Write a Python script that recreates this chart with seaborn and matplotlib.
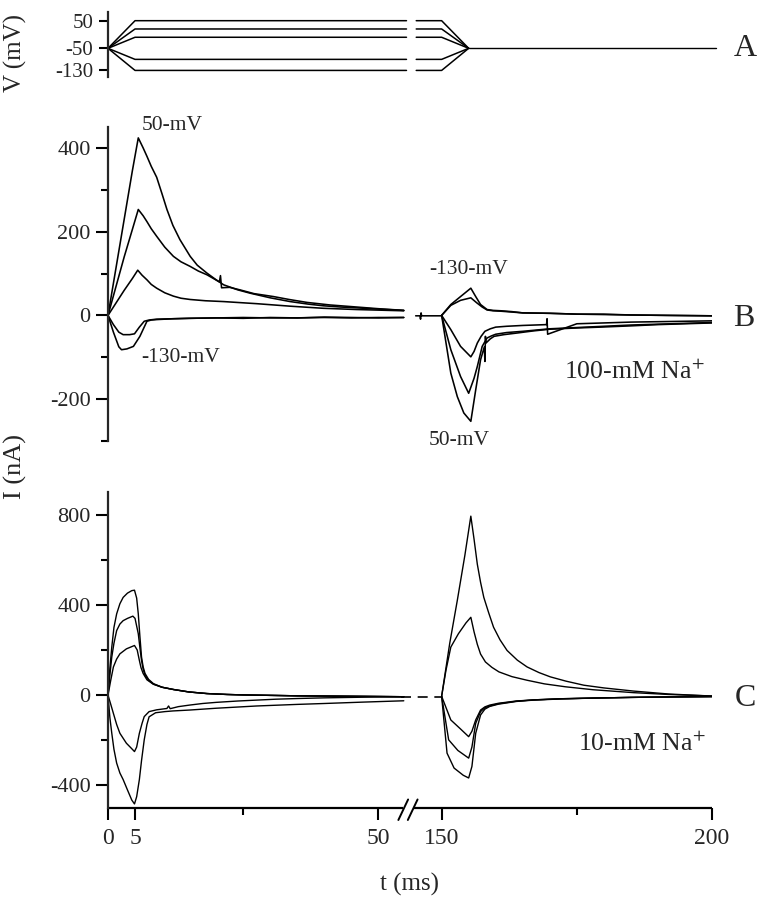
import numpy as np
import pandas as pd
import matplotlib
matplotlib.use("Agg")
import matplotlib.pyplot as plt
import seaborn as sns

# ---------------- data ----------------
BREAK_SHIFT = 88.3          # right part of the broken time axis (t >= 140 ms) is shifted left
X_TICKS = [0, 5, 50, 150, 200]
X_TICK_LABELS = ["0", "5", "50", "150", "200"]
X_MINOR = [25, 175]

# Panel A: voltage protocol (mV)
V_STEPS = [50, 20, -10, -90, -130]
V_HOLD = -50
V_TICKS = [50, -50, -130]
V_TICK_LABELS = ["50", "-50", "-130"]
V_LEFT_T = [0, 5, 55.2]
V_RIGHT_T = [145.3, 150, 155]
V_TAIL_T = [155, 200.7]

# Panel B: 100-mM Na+ (nA)
B_TICKS = [-200, 0, 200, 400]
B_MINOR = [-300, -100, 100, 300]
B_L_T_50 = [0, 1.5, 3, 4.5, 5.6, 6.5, 7.2, 8, 9, 10, 10.9, 12, 13.3, 15.2, 16.5, 18.3, 20, 21.4, 24, 26.3, 30, 33.7, 37, 39.8, 43, 46, 50, 54.7]
B_L_I_50 = [0, 115, 230, 345, 424, 400, 380, 356, 330, 290, 253, 215, 181, 141, 120, 101, 85, 73, 61, 53, 42, 33, 27, 23, 20, 18, 15, 12]
B_L_T_20 = [0, 1.5, 3, 4.5, 5.6, 6.5, 7.2, 8, 9, 10.5, 12.1, 13.5, 15.2, 16.7, 18.3, 20.6, 20.8, 21.0, 22.5, 24.4, 27, 30.6, 33.5, 36.8, 41, 46, 50, 54.7]
B_L_I_20 = [0, 70, 140, 205, 253, 238, 224, 207, 189, 163, 141, 128, 117, 106, 97, 80, 95, 66, 67, 61, 52, 45, 38, 31, 25, 20, 16, 12]
B_L_T_M10 = [0, 1.5, 3, 4.5, 5.5, 6.3, 7.2, 8, 9, 10.5, 12.1, 13.5, 15.2, 18, 21.4, 27.5, 33.7, 39.8, 46, 54.7]
B_L_I_M10 = [0, 30, 60, 88, 108, 96, 85, 74, 65, 54, 46, 41, 38, 35, 33, 28, 22, 17, 14, 11]
B_L_T_M90 = [0, 1, 2, 2.8, 4, 4.9, 5.8, 6.7, 7.6, 9, 12, 15, 20, 25, 30, 35, 40, 45, 50, 54.7]
B_L_I_M90 = [0, -22, -40, -46, -46, -44, -28, -14, -11, -9, -8, -7, -6, -7, -5, -6, -5, -6, -5, -5]
B_L_T_M130 = [0, 1, 2, 2.5, 3.5, 4.7, 5.9, 7.2, 8, 9, 12, 15, 20, 25, 30, 35, 40, 45, 50, 54.7]
B_L_I_M130 = [0, -40, -75, -82, -80, -74, -50, -14, -11, -10, -8, -7, -6, -5, -6, -6, -4, -5, -6, -5]
B_R_PRE_T = [145.2, 146.0, 146.1, 146.2, 146.3, 150]
B_R_PRE_I = [-1, -1, -9, 6, -1, -1]
B_R_T_M130 = [150, 151.7, 153.5, 155.4, 156.3, 157.2, 158.4, 159.5, 161, 163, 165, 170, 175, 180, 185, 192, 200]
B_R_I_M130 = [0, 26, 45, 65, 45, 26, 14, 12, 11, 9, 6, 5, 3, 3, 1, 0, -1]
B_R_T_M90 = [150, 151.7, 153.5, 155.4, 156.5, 157.5, 158.4, 159.5, 161, 163, 165, 170, 175, 180, 185, 192, 200]
B_R_I_M90 = [0, 24, 36, 42, 30, 20, 13, 11, 10, 8, 6, 5, 3, 2, 1, 0, -1]
B_R_T_50 = [150, 151.7, 152.9, 154.1, 155.4, 156.3, 157.2, 157.9, 158.0, 158.1, 158.2, 159.0, 159.7, 161.5, 164, 167, 170, 175, 179.3, 185, 190, 195, 200]
B_R_I_50 = [0, -138, -194, -233, -253, -178, -106, -75, -110, -50, -66, -56, -50, -46, -42, -37, -33, -30, -28, -25, -22, -20, -18]
B_R_T_20 = [150, 151.7, 153.5, 155.0, 156.0, 156.6, 157.5, 158.4, 159.2, 160, 162, 165, 170, 175, 180, 185, 190, 195, 200]
B_R_I_20 = [0, -82, -146, -186, -150, -122, -74, -54, -49, -45, -41, -38, -32, -29, -26, -23, -21, -19, -17]
B_R_T_M10 = [150, 151.7, 153.5, 155.4, 156.0, 156.6, 157.3, 158, 159, 160, 162, 165, 169.4, 169.5, 169.6, 175, 180, 185, 190, 195, 200]
B_R_I_M10 = [0, -34, -74, -99, -86, -66, -50, -38, -32, -28, -26, -24, -22, -8, -45, -20, -18, -16, -15, -14, -13]

# Panel C: 10-mM Na+ (nA)
C_TICKS = [-400, 0, 400, 800]
C_MINOR = [-200, 200, 600]
C_L_T_50 = [0, 0.35, 0.7, 1.1, 1.6, 2.2, 2.8, 3.6, 4.4, 4.9, 5.3, 5.6, 5.9, 6.2, 6.5, 6.85, 7.5, 8.4, 10, 12.1, 15, 18.3, 22, 25, 30, 35, 40, 45, 50, 54.7]
C_L_I_50 = [0, 120, 213, 300, 360, 405, 433, 452, 463, 465, 430, 360, 260, 169, 125, 96, 70, 51, 35, 25, 14, 7, 3, 1, -1, -3, -4, -5, -6, -7]
C_L_T_20 = [0, 0.35, 0.7, 1.1, 1.6, 2.2, 2.8, 3.6, 4.6, 5.0, 5.6, 5.9, 6.2, 6.5, 6.85, 7.5, 8.4, 10, 12.1, 15, 18.3, 22, 25, 30, 35, 40, 45, 50, 54.7]
C_L_I_20 = [0, 90, 169, 230, 286, 315, 330, 340, 350, 340, 272, 210, 154, 115, 88, 66, 49, 35, 25, 14, 7, 3, 1, -1, -3, -4, -5, -6, -7]
C_L_T_M10 = [0, 0.5, 1.0, 1.6, 2.2, 3.4, 4.9, 5.4, 5.8, 6.1, 6.5, 7.2, 8.4, 10, 12.1, 15, 18.3, 22, 25, 30, 35, 40, 45, 50, 54.7]
C_L_I_M10 = [0, 65, 125, 160, 183, 205, 220, 200, 154, 122, 96, 68, 48, 35, 25, 14, 7, 3, 1, -1, -3, -4, -5, -6, -7]
C_L_T_M90 = [0, 0.5, 1.0, 1.6, 2.2, 3.4, 4.3, 4.9, 5.3, 5.8, 6.3, 6.7, 7.6, 9, 10.9, 11.2, 11.5, 13, 15.1, 17.5, 20, 24, 27.5, 31, 35, 40, 45, 50, 54.7]
C_L_I_M90 = [0, -40, -81, -130, -169, -213, -235, -250, -230, -169, -125, -95, -73, -65, -59, -48, -60, -51, -44, -37, -32, -26, -22, -18, -15, -12, -10, -8, -7]
C_L_T_M130 = [0, 0.35, 0.7, 1.1, 1.6, 2.2, 2.8, 3.6, 4.4, 4.9, 5.3, 5.8, 6.2, 6.7, 7.2, 7.6, 8.8, 10.5, 12, 15.1, 20, 27.5, 35, 40, 47, 54.7]
C_L_I_M130 = [0, -100, -169, -240, -301, -345, -374, -420, -465, -482, -450, -374, -290, -198, -130, -96, -78, -73, -70, -66, -58, -48, -41, -37, -31, -25]
C_R_PRE_T = [142.4, 150]
C_R_PRE_I = [-7, -7]
C_R_T_BIG = [150, 151.5, 152.9, 154.3, 155.4, 156.0, 156.6, 157.2, 157.8, 158.7, 159.6, 160.8, 162.1, 164, 165.8, 168, 170.1, 173, 176.3, 180, 185.5, 192, 200]
C_R_I_BIG = [-5, 230, 420, 620, 793, 690, 580, 500, 433, 365, 301, 245, 198, 155, 125, 100, 81, 62, 44, 32, 18, 5, -4]
C_R_T_MID = [150, 150.8, 151.7, 153.1, 154.5, 155.4, 156.0, 156.6, 157.2, 158.1, 159.3, 160.6, 163, 165.8, 169, 172.9, 178, 185.5, 192, 200]
C_R_I_MID = [-5, 110, 213, 272, 320, 345, 280, 225, 182, 147, 123, 103, 82, 66, 50, 37, 24, 11, 3, -4]
C_R_T_D1 = [150, 151.7, 153.5, 155.0, 155.6, 156.3, 157.2, 158.0, 158.9, 160.5, 163.8, 167, 172, 178, 185, 192, 200]
C_R_I_D1 = [-5, -110, -150, -184, -160, -110, -66, -52, -44, -36, -26, -21, -16, -13, -10, -8, -7]
C_R_T_D2 = [150, 151.3, 153, 155.0, 155.6, 156.3, 157.2, 158.0, 158.9, 160.5, 163.8, 167, 172, 178, 185, 192, 200]
C_R_I_D2 = [-5, -198, -245, -279, -230, -125, -73, -56, -48, -38, -27, -21, -16, -13, -10, -8, -6]
C_R_T_D3 = [150, 151, 152.3, 154, 155.0, 155.6, 156.3, 157.2, 158.0, 158.9, 160.5, 163.8, 167, 172, 178, 185, 192, 200]
C_R_I_D3 = [-5, -257, -323, -355, -367, -316, -169, -88, -62, -50, -40, -28, -22, -17, -13, -10, -8, -6]

# ---------------- style ----------------
sns.set_style("ticks")
plt.rcParams["font.family"] = ["Liberation Serif", "DejaVu Serif"]
plt.rcParams["mathtext.fontset"] = "stix"
plt.rcParams["axes.unicode_minus"] = False

W, H = 761, 900
fig = plt.figure(figsize=(W / 100, H / 100), dpi=100)


def to_u(ts):
    return [t if t < 100 else t - BREAK_SHIFT for t in ts]


def fx(px):
    return px / W


def fy(py):
    return 1 - py / H


X0, X1 = 108, 712
U_MAX = to_u([200])[0]
left = fx(X0)
width = fx(X1) - fx(X0)

axA = fig.add_axes([left, fy(76.5), width, (76.5 - 12.4) / H])
axB = fig.add_axes([left, fy(441), width, (441 - 127) / H])
axC = fig.add_axes([left, fy(808), width, (808 - 492) / H])

LW_SP = 1.6
TICK_KW = dict(direction="out", width=1.5, labelsize=16, pad=4, color="black")


def draw(ax, t, y, lw=1.0, ls="-"):
    sns.lineplot(x=to_u(t), y=y, ax=ax, color="black", lw=lw, ls=ls,
                 estimator=None, sort=False)


# Panel A
for v in V_STEPS:
    draw(axA, V_LEFT_T, [V_HOLD, v, v], lw=1.1)
    draw(axA, V_RIGHT_T, [v, v, V_HOLD], lw=1.1)
sns.lineplot(x=to_u(V_TAIL_T), y=[V_HOLD, V_HOLD], ax=axA, color="black", lw=1.0,
             estimator=None, sort=False).lines[-1].set_clip_on(False)
axA.set_ylim(-152, 80)
axA.set_yticks(V_TICKS)
axA.set_yticklabels(V_TICK_LABELS)

# Panel B
for t, y in [(B_L_T_50, B_L_I_50), (B_L_T_20, B_L_I_20), (B_L_T_M10, B_L_I_M10),
             (B_L_T_M90, B_L_I_M90), (B_L_T_M130, B_L_I_M130), (B_R_PRE_T, B_R_PRE_I),
             (B_R_T_M130, B_R_I_M130), (B_R_T_M90, B_R_I_M90), (B_R_T_50, B_R_I_50),
             (B_R_T_20, B_R_I_20), (B_R_T_M10, B_R_I_M10)]:
    draw(axB, t, y, lw=1.15)
axB.set_ylim(-300, 450)
axB.set_yticks(B_TICKS)
axB.set_yticklabels([str(v) for v in B_TICKS])
axB.set_yticks(B_MINOR, minor=True)

# Panel C
for t, y in [(C_L_T_50, C_L_I_50), (C_L_T_20, C_L_I_20), (C_L_T_M10, C_L_I_M10),
             (C_L_T_M90, C_L_I_M90), (C_L_T_M130, C_L_I_M130),
             (C_R_T_BIG, C_R_I_BIG), (C_R_T_MID, C_R_I_MID), (C_R_T_D1, C_R_I_D1),
             (C_R_T_D2, C_R_I_D2), (C_R_T_D3, C_R_I_D3)]:
    draw(axC, t, y, lw=1.0)
draw(axC, C_R_PRE_T, C_R_PRE_I, lw=1.2, ls=(0, (6, 4)))
axC.set_ylim(-500, 900)
axC.set_yticks(C_TICKS)
axC.set_yticklabels([str(v) for v in C_TICKS])
axC.set_yticks(C_MINOR, minor=True)

for ax in (axA, axB, axC):
    ax.set_xlim(0, U_MAX)
    for s in ("top", "right", "bottom"):
        ax.spines[s].set_visible(False)
    ax.spines["left"].set_linewidth(LW_SP)
    ax.set_xlabel("")
    ax.set_ylabel("")
    ax.tick_params(axis="y", which="major", length=8.5, **TICK_KW)
    ax.tick_params(axis="y", which="minor", length=5, direction="out", width=1.5, color="black")
    ax.set_facecolor("none")
    ax.grid(False)

axA.tick_params(axis="y", which="major", length=6.5, labelsize=15)
for ax in (axA, axB):
    ax.tick_params(axis="x", which="both", bottom=False, labelbottom=False)

# bottom (broken) time axis for panel C
axC.set_xticks(to_u(X_TICKS))
axC.set_xticklabels(X_TICK_LABELS)
axC.set_xticks(to_u(X_MINOR), minor=True)
axC.tick_params(axis="x", which="major", length=8.5, **TICK_KW)
axC.tick_params(axis="x", which="major", labelsize=17, pad=6)
axC.tick_params(axis="x", which="minor", length=5, direction="out", width=1.5, color="black")
tr = axC.get_xaxis_transform()
gap_l, gap_r = 54.6, 56.4
axC.plot([0, gap_l], [0, 0], transform=tr, color="black", lw=LW_SP, clip_on=False,
         solid_capstyle="butt")
axC.plot([gap_r, U_MAX], [0, 0], transform=tr, color="black", lw=LW_SP, clip_on=False,
         solid_capstyle="butt")
for du in (0.0, 1.75):
    axC.plot([53.7 + du, 55.5 + du], [-0.038, 0.027], transform=tr, color="black",
             lw=1.4, clip_on=False)

# texts
fig.text(fx(15), fy(53), "V (mV)", rotation=90, ha="center", va="center", fontsize=18)
fig.text(fx(15), fy(467), "I (nA)", rotation=90, ha="center", va="center", fontsize=19)
fig.text(fx(410), fy(884), "t (ms)", ha="center", va="center", fontsize=18)

fig.text(fx(745), fy(49), "A", ha="center", va="center", fontsize=23)
fig.text(fx(744), fy(319), "B", ha="center", va="center", fontsize=23)
fig.text(fx(745), fy(698), "C", ha="center", va="center", fontsize=23)

fig.text(fx(172), fy(125), "50-mV", ha="center", va="center", fontsize=15.5)
fig.text(fx(181), fy(358), "-130-mV", ha="center", va="center", fontsize=15.5)
fig.text(fx(469), fy(269), "-130-mV", ha="center", va="center", fontsize=15.5)
fig.text(fx(459), fy(440), "50-mV", ha="center", va="center", fontsize=15.5)
fig.text(fx(634), fy(372), "100-mM Na$^{+}$", ha="center", va="center", fontsize=18.5)
fig.text(fx(642), fy(744), "10-mM Na$^{+}$", ha="center", va="center", fontsize=18.5)

fig.savefig("out.png", dpi=100, facecolor="white")
